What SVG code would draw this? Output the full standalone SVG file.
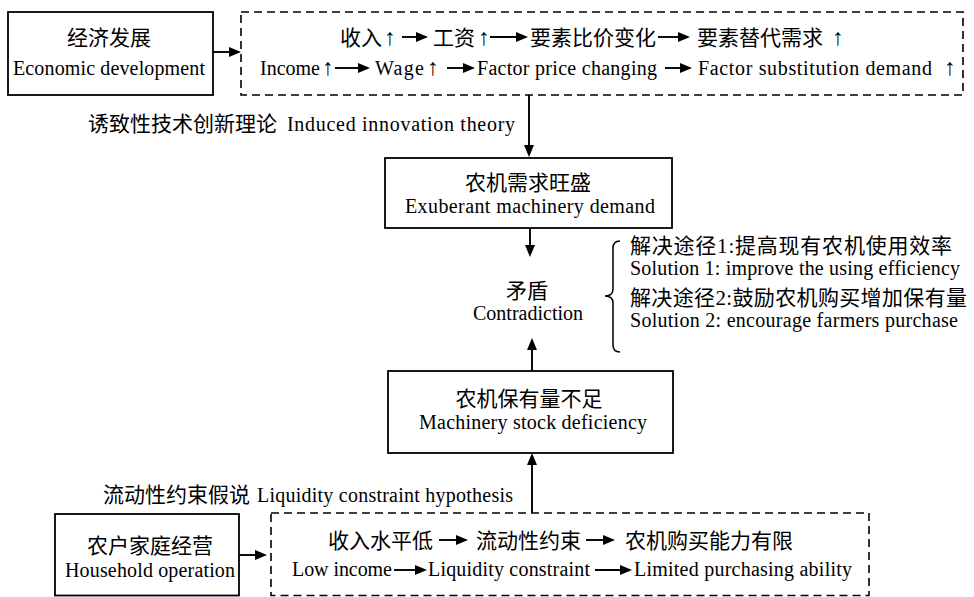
<svg xmlns="http://www.w3.org/2000/svg" width="974" height="597" viewBox="0 0 974 597" font-family="'Liberation Serif', 'DejaVu Serif', 'Noto Sans CJK SC', serif">
<defs>
<style>
text{font-family:"Liberation Serif","DejaVu Serif","Noto Sans CJK SC",serif;font-size:20px;fill:#000}
.c{font-family:"Liberation Serif","Noto Sans CJK SC",serif;font-size:21px}
.m{text-anchor:middle}
.u{font-size:23px;text-anchor:middle}
.box{fill:#fff;stroke:#000;stroke-width:1.8}
.dash{fill:none;stroke:#000;stroke-width:1.6;stroke-dasharray:8 5}
.ar{fill:none;stroke:#000;stroke-width:1.9;marker-end:url(#ah)}
.br{fill:none;stroke:#000;stroke-width:1.5}
</style>
<marker id="ah" markerUnits="userSpaceOnUse" markerWidth="12" markerHeight="10" refX="8" refY="5" orient="auto">
<path d="M0,0 L12,5 L0,10 z" fill="#000"/>
</marker>
</defs>
<rect width="974" height="597" fill="#fff"/>

<g id="economic">
<rect class="box" x="8" y="12" width="205" height="83"/>
<text class="c m" x="109" y="45">经济发展</text>
<text class="m" x="109" y="75" textLength="192">Economic development</text>
</g>

<g id="chain-top">
<rect class="dash" x="241" y="12" width="722" height="83"/>
<text class="c" x="340" y="45">收入</text>
<text class="u" x="390" y="45">↑</text>
<text class="c" x="433" y="45">工资</text>
<text class="u" x="484" y="45">↑</text>
<text class="c" x="530" y="45">要素比价变化</text>
<text class="c" x="697" y="45">要素替代需求</text>
<text class="u" x="838" y="45">↑</text>
<text x="260" y="75" textLength="60">Income</text>
<text class="u" x="328" y="75">↑</text>
<text x="375" y="75" textLength="49">Wage</text>
<text class="u" x="433" y="75">↑</text>
<text x="477" y="75" textLength="180">Factor price changing</text>
<text x="698" y="75" textLength="234">Factor substitution demand</text>
<text class="u" x="950" y="75">↑</text>
<path class="ar" d="M402,37 H424"/>
<path class="ar" d="M490,37 H524"/>
<path class="ar" d="M658,37 H686"/>
<path class="ar" d="M335,68 H366"/>
<path class="ar" d="M447,68 H471"/>
<path class="ar" d="M665,68 H688"/>
</g>

<g id="label-induced">
<text x="88" y="131"><tspan class="c">诱致性技术创新理论</tspan><tspan x="287" textLength="228">Induced innovation theory</tspan></text>
</g>

<g id="demand">
<rect class="box" x="385" y="158" width="287" height="70"/>
<text class="c m" x="528" y="190">农机需求旺盛</text>
<text class="m" x="530" y="213" textLength="250">Exuberant machinery demand</text>
</g>

<g id="contradiction">
<text class="c m" x="527" y="298">矛盾</text>
<text class="m" x="528" y="320" textLength="110">Contradiction</text>
</g>

<g id="solutions">
<path class="br" d="M620,241 Q613,241 613,248 V289 Q613,296 605,296 Q613,296 613,303 V345 Q613,352 620,352"/>
<text class="c" x="630" y="252.5" textLength="322">解决途径1:提高现有农机使用效率</text>
<text x="630" y="275" textLength="330">Solution 1: improve the using efficiency</text>
<text class="c" x="630" y="305" textLength="337">解决途径2:鼓励农机购买增加保有量</text>
<text x="630" y="327" textLength="328">Solution 2: encourage farmers purchase</text>
</g>

<g id="stock">
<rect class="box" x="388" y="371" width="285" height="82"/>
<text class="c m" x="529" y="406">农机保有量不足</text>
<text class="m" x="533" y="429" textLength="228">Machinery stock deficiency</text>
</g>

<g id="label-liquidity">
<text x="103" y="502"><tspan class="c">流动性约束假说</tspan><tspan x="257" textLength="256">Liquidity constraint hypothesis</tspan></text>
</g>

<g id="household">
<rect class="box" x="55" y="514" width="184" height="81.5"/>
<text class="c m" x="150" y="553">农户家庭经营</text>
<text class="m" x="150" y="577" textLength="170">Household operation</text>
</g>

<g id="chain-bottom">
<rect class="dash" x="271" y="513" width="598" height="82.5"/>
<text class="c" x="328" y="548">收入水平低</text>
<text class="c" x="476" y="548">流动性约束</text>
<text class="c" x="625" y="548">农机购买能力有限</text>
<text x="292" y="576" textLength="100">Low income</text>
<text x="428" y="576" textLength="162">Liquidity constraint</text>
<text x="634" y="576" textLength="218">Limited purchasing ability</text>
<path class="ar" d="M439,540 H464"/>
<path class="ar" d="M586,540 H611"/>
<path class="ar" d="M394,570 H423"/>
<path class="ar" d="M595,570 H628"/>
</g>

<g id="connectors">
<path class="ar" d="M213,52 H237"/>
<path class="ar" d="M529,95 V153"/>
<path class="ar" d="M530,228 V253"/>
<path class="ar" d="M532,371 V342"/>
<path class="ar" d="M532,513 V457"/>
<path class="ar" d="M239,555 H263"/>
</g>
</svg>
